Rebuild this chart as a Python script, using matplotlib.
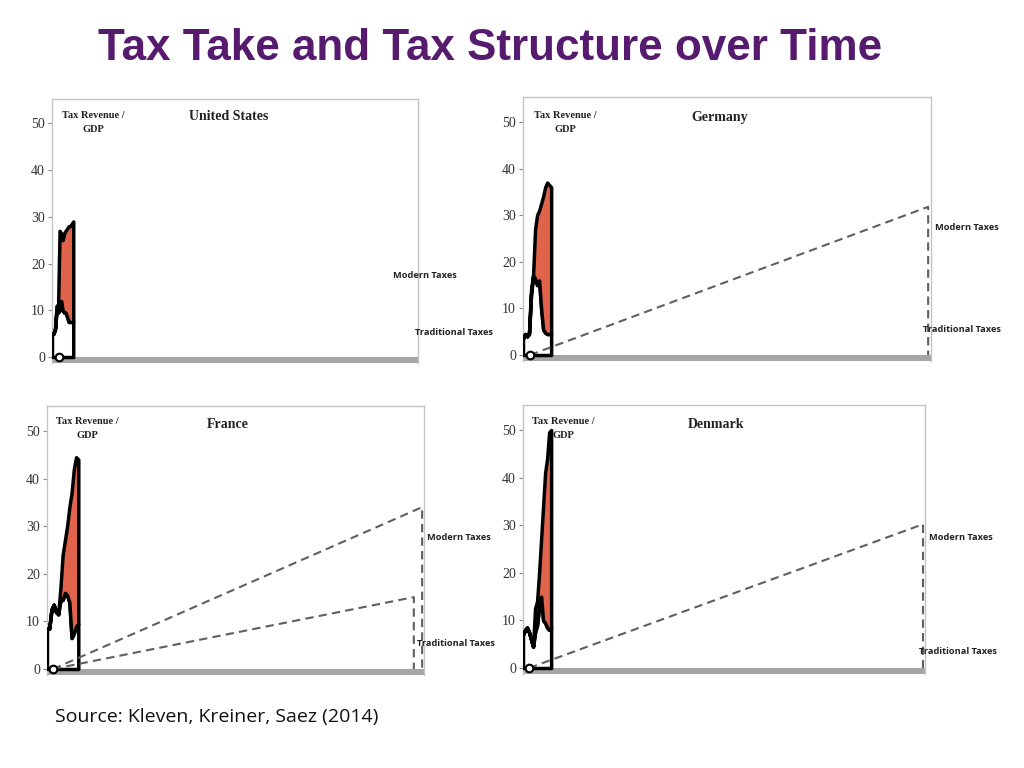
import matplotlib.pyplot as plt
from matplotlib.transforms import blended_transform_factory

# years of the series (one point every 10 years)
years = list(range(1870, 2011, 10))

# tax revenue / GDP (%) : total and traditional taxes
us_total = [5, 5, 6, 11, 10.5, 27, 26.5, 25, 26.5, 27, 27.5, 28, 28, 28.5, 29]
us_trad = [5, 5, 6, 10, 9.5, 10, 12, 10, 9.5, 9.5, 8.5, 7.5, 7.5, 7.5, 7.5]
de_total = [3.5, 4.5, 4, 5, 14, 17, 27, 30, 31, 32.5, 34, 36, 37, 36.5, 36]
de_trad = [3.5, 4.5, 4, 4.5, 13, 17, 16.5, 15, 16, 10, 5.5, 4.8, 4.5, 4.5, 4.5]
fr_total = [8.5, 8.5, 12.5, 13.5, 12, 11.5, 17, 24, 27, 30, 34, 37, 42, 44.5, 44]
fr_trad = [8.5, 8.5, 12.5, 13.5, 12, 11.5, 14.5, 14.5, 16, 15.5, 14, 6.5, 7.5, 9, 9.5]
dk_total = [7, 8, 8.5, 7.5, 6, 4.5, 12.5, 14, 20, 27, 34, 41, 44, 49.5, 50]
dk_trad = [7, 8, 8.5, 7.5, 6, 4.5, 7.5, 9, 13, 15, 10, 9.5, 8.5, 8, 8.5]

# end levels of the dashed guide lines
de_modern_end = 31.8
fr_modern_end = 34
fr_trad_end = 15.1
dk_modern_end = 30.2

W, H = 1024, 768
Y_LO, Y_HI = -1.3, 55.3
ORANGE = "#e0634b"
SERIF = "Liberation Serif"

fig = plt.figure(figsize=(W / 100, H / 100), dpi=100)


def fx(x):
    return x / W


def fy(y):
    return 1 - y / H


# name, total, trad, (left, right, zero_y, px per unit), data fraction,
# dashed lines [(end x fraction, level)], title pos, ylabel pos, modern pos, trad pos
panels = [
    ("United States", us_total, us_trad, (52, 418, 357, 4.674), 0.058, 0.019,
     [], (229, 117), (93, 115), (425, 276), (454, 332)),
    ("Germany", de_total, de_trad, (523, 931, 355, 4.66), 0.069, 0.017,
     [(0.993, de_modern_end)], (720, 117), (565, 115), (967, 227), (962, 330)),
    ("France", fr_total, fr_trad, (47, 424, 669, 4.76), 0.083, 0.016,
     [(0.995, fr_modern_end), (0.973, fr_trad_end)], (228, 425), (87, 422), (459, 538), (456, 643)),
    ("Denmark", dk_total, dk_trad, (523, 925, 668, 4.76), 0.07, 0.015,
     [(0.995, dk_modern_end)], (716, 424), (563, 422), (961, 537), (958, 651)),
]

for (name, total, trad, box, frac, mfrac, dashes, tpos, lpos, mpos, rpos) in panels:
    left, right, y0, u = box
    top = y0 - Y_HI * u
    bottom = y0 - Y_LO * u
    ax = fig.add_axes([fx(left), fy(bottom), fx(right - left), (bottom - top) / H])
    span = (years[-1] - years[0]) / frac
    ax.set_xlim(years[0], years[0] + span)
    ax.set_ylim(Y_LO, Y_HI)

    ax.axhspan(Y_LO, 0, color="#a5a5a5", lw=0, zorder=1)
    ax.fill_between(years, 0, trad, facecolor="white", edgecolor="black",
                    linewidth=2.5, zorder=3)
    ax.fill_between(years, trad, total, facecolor=ORANGE, edgecolor="black",
                    linewidth=2.5, zorder=4)

    tr = blended_transform_factory(ax.transAxes, ax.transData)
    for xe, lvl in dashes:
        ax.plot([mfrac, xe, xe], [0, lvl, 0], transform=tr, color="#5f5f5f",
                lw=1.5, dashes=(4, 2.5), zorder=5)
    ax.plot([mfrac], [0], transform=tr, marker="o", ms=5.5, mfc="white",
            mec="black", mew=1.5, zorder=6, clip_on=False)

    ax.set_xticks([])
    ax.set_yticks(range(0, 51, 10))
    ax.tick_params(axis="y", length=3, color="#888888", labelsize=10,
                   labelcolor="#333333", pad=2)
    for lab in ax.get_yticklabels():
        lab.set_family(SERIF)
    for s in ("top", "right", "left"):
        ax.spines[s].set_color("#c4c4c4")
        ax.spines[s].set_linewidth(1)
    ax.spines["bottom"].set_visible(False)

    fig.text(fx(tpos[0]), fy(tpos[1]), name, family=SERIF, weight="bold",
             fontsize=10, ha="center", va="center", color="#222222")
    fig.text(fx(lpos[0]), fy(lpos[1]), "Tax Revenue /", family=SERIF, weight="bold",
             fontsize=7.5, ha="center", va="center", color="#222222")
    fig.text(fx(lpos[0]), fy(lpos[1] + 14), "GDP", family=SERIF, weight="bold",
             fontsize=7.5, ha="center", va="center", color="#222222")
    fig.text(fx(mpos[0]), fy(mpos[1]), "Modern Taxes", family="Open Sans",
             weight="bold", fontsize=6.7, ha="center", va="center", color="#222222")
    fig.text(fx(rpos[0]), fy(rpos[1]), "Traditional Taxes", family="Open Sans",
             weight="bold", fontsize=6.7, ha="center", va="center", color="#222222")

fig.text(fx(490), fy(48), "Tax Take and Tax Structure over Time",
         family="Liberation Sans", weight="bold",
         fontsize=31.7, ha="center", va="center", color="#561a6e")
fig.text(fx(55), fy(717), "Source: Kleven, Kreiner, Saez (2014)", family="Open Sans",
         fontsize=14, ha="left", va="center", color="#111111")

fig.savefig("out.png", dpi=100)
